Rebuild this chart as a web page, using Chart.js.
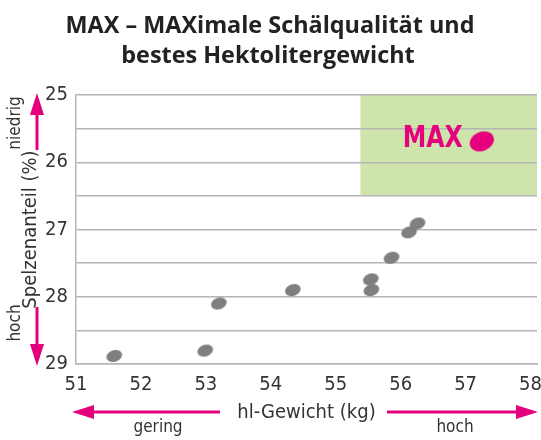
<!DOCTYPE html>
<html>
<head>
<meta charset="utf-8">
<script src="https://cdn.jsdelivr.net/npm/chart.js@4/dist/chart.umd.min.js"></script>
<style>
  html, body { margin: 0; padding: 0; background: #fff; }
  #wrap { width: 541px; height: 440px; }
</style>
</head>
<body>
<div id="wrap"><canvas id="chart"></canvas></div>
<script>
// Werte
const hlGewicht = [51.59, 52.99, 53.2, 54.34, 55.54, 55.55, 55.86, 56.13, 56.26];
const spelzen   = [28.88, 28.8, 28.1, 27.9, 27.74, 27.9, 27.42, 27.04, 26.91];
const maxX = [57.25];
const maxY = [25.69];
const zielX = [55.38, 58.1];   // grüner Bereich
const zielY = [25, 26.5];
const xTicks = [51, 52, 53, 54, 55, 56, 57, 58];
const yTicks = [25, 26, 27, 28, 29];

const PINK = '#e5007d';
const GRAU = '#7f7f7f';
const SCHRIFT = "'DejaVu Sans Condensed', sans-serif";

function ellipse(w, h, rx, ry, rot, color) {
  const c = document.createElement('canvas');
  c.width = w; c.height = h;
  const g = c.getContext('2d');
  g.fillStyle = color;
  g.beginPath();
  g.ellipse(w / 2, h / 2, rx, ry, rot, 0, Math.PI * 2);
  g.fill();
  return c;
}

function pfeil(ctx, x1, y1, x2, y2) {
  const ang = Math.atan2(y2 - y1, x2 - x1);
  const kopf = 22, breit = 7;
  const bx = x2 - Math.cos(ang) * kopf, by = y2 - Math.sin(ang) * kopf;
  ctx.save();
  ctx.strokeStyle = PINK;
  ctx.fillStyle = PINK;
  ctx.lineWidth = 3;
  ctx.beginPath();
  ctx.moveTo(x1, y1);
  ctx.lineTo(bx, by);
  ctx.stroke();
  ctx.beginPath();
  ctx.moveTo(x2, y2);
  ctx.lineTo(bx + Math.sin(ang) * breit, by - Math.cos(ang) * breit);
  ctx.lineTo(bx - Math.sin(ang) * breit, by + Math.cos(ang) * breit);
  ctx.closePath();
  ctx.fill();
  ctx.restore();
}

const extras = {
  id: 'extras',
  beforeDraw(chart) {
    const {ctx, scales: {x, y}} = chart;
    const l = x.getPixelForValue(zielX[0]), r = x.getPixelForValue(zielX[1]);
    const t = y.getPixelForValue(zielY[0]), b = y.getPixelForValue(zielY[1]);
    ctx.save();
    ctx.fillStyle = '#cfe3ad';
    ctx.fillRect(l, t, r - l, b - t);
    ctx.restore();
  },
  afterDraw(chart) {
    const {ctx} = chart;
    ctx.save();
    // Titel
    ctx.fillStyle = '#222';
    ctx.font = "bold 23.4px 'Open Sans', sans-serif";
    ctx.textAlign = 'center';
    ctx.textBaseline = 'alphabetic';
    ctx.fillText('MAX – MAXimale Schälqualität und', 270, 33);
    ctx.fillText('bestes Hektolitergewicht', 268, 63);

    // MAX Beschriftung neben dem Punkt
    const p = chart.getDatasetMeta(1).data[0];
    ctx.fillStyle = PINK;
    ctx.font = 'bold 30px ' + SCHRIFT;
    ctx.textAlign = 'right';
    ctx.textBaseline = 'middle';
    ctx.fillText('MAX', p.x - 19, p.y - 2, 60);

    // Pfeile y-Achse
    pfeil(ctx, 37, 150, 37, 93);
    pfeil(ctx, 37, 307, 37, 366);
    ctx.fillStyle = '#333';
    ctx.font = '17px ' + SCHRIFT;
    ctx.textAlign = 'center';
    ctx.textBaseline = 'middle';
    ctx.save();
    ctx.translate(16, 123);
    ctx.rotate(-Math.PI / 2);
    ctx.fillText('niedrig', 0, 0);
    ctx.restore();
    ctx.save();
    ctx.translate(16, 323);
    ctx.rotate(-Math.PI / 2);
    ctx.fillText('hoch', 0, 0);
    ctx.restore();

    // Pfeile x-Achse
    pfeil(ctx, 220, 412, 72, 412);
    pfeil(ctx, 387, 412, 538, 412);
    ctx.fillText('gering', 158, 428);
    ctx.fillText('hoch', 455, 428);
    ctx.restore();
  }
};

new Chart(document.getElementById('chart'), {
  type: 'scatter',
  data: {
    datasets: [{
      label: 'Sorten',
      data: hlGewicht.map((v, i) => ({x: v, y: spelzen[i]})),
      pointStyle: ellipse(18, 14, 8, 5.8, -0.35, GRAU),
      pointRadius: 8
    }, {
      label: 'MAX',
      data: maxX.map((v, i) => ({x: v, y: maxY[i]})),
      pointStyle: ellipse(28, 24, 12.5, 9.5, -0.4, PINK),
      pointRadius: 12
    }]
  },
  options: {
    responsive: true,
    maintainAspectRatio: false,
    animation: false,
    layout: { autoPadding: false, padding: { top: 95, right: 4, bottom: 0, left: 0 } },
    plugins: {
      legend: { display: false },
      tooltip: { enabled: false }
    },
    scales: {
      x: {
        type: 'linear',
        min: 51, max: 58.1,
        afterBuildTicks: s => { s.ticks = xTicks.map(v => ({value: v})); },
        afterFit: s => { s.height = 76; s.paddingLeft = 0; s.paddingRight = 0; },
        grid: { display: false, drawTicks: false },
        border: { display: true, color: '#b5b5b5', width: 1.5 },
        ticks: { padding: 9, color: '#333', font: { family: SCHRIFT, size: 20 } },
        title: {
          display: true, text: 'hl-Gewicht (kg)', color: '#333',
          font: { family: SCHRIFT, size: 20 }, padding: { top: 0, bottom: 15 }
        }
      },
      y: {
        type: 'linear',
        min: 25, max: 29,
        reverse: true,
        ticks: {
          stepSize: 0.5, padding: 8, color: '#333',
          font: { family: SCHRIFT, size: 20 },
          callback: v => yTicks.includes(v) ? String(v) : ''
        },
        afterFit: s => { s.width = 76; s.paddingTop = 0; s.paddingBottom = 0; },
        grid: { color: '#b5b5b5', lineWidth: 1.5, drawTicks: false },
        border: { display: true, color: '#b5b5b5', width: 1.5 },
        title: {
          display: true, text: 'Spelzenanteil (%)', color: '#333',
          font: { family: SCHRIFT, size: 20 }, padding: { top: 19, bottom: 0 }
        }
      }
    }
  },
  plugins: [extras]
});
</script>
</body>
</html>
